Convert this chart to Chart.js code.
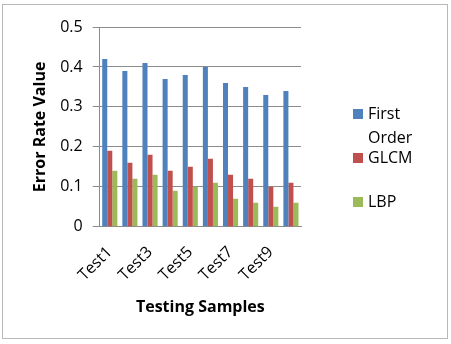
<!DOCTYPE html>
<html>
<head>
<meta charset="utf-8">
<script src="https://cdn.jsdelivr.net/npm/chart.js@4"></script>
<style>
  html, body { margin: 0; padding: 0; background: #fff; }
  #wrap { position: relative; width: 451px; height: 344px; }
  #frame { position: absolute; left: 2px; top: 4px; width: 446px; height: 335px; border: 1px solid #b8b8b8; box-sizing: border-box; pointer-events: none; }
</style>
</head>
<body>
<div id="wrap">
  <canvas id="errChart" width="451" height="344"></canvas>
  <div id="frame"></div>
</div>
<script>
const categories = ["Test1", "Test2", "Test3", "Test4", "Test5", "Test6", "Test7", "Test8", "Test9", "Test10"];
const seriesNames = ["First Order", "GLCM", "LBP"];
const firstOrder = [0.42, 0.39, 0.41, 0.37, 0.38, 0.40, 0.36, 0.35, 0.33, 0.34];
const glcm = [0.19, 0.16, 0.18, 0.14, 0.15, 0.17, 0.13, 0.12, 0.10, 0.11];
const lbp = [0.14, 0.12, 0.13, 0.09, 0.10, 0.11, 0.07, 0.06, 0.05, 0.06];
const yTicks = [0, 0.1, 0.2, 0.3, 0.4, 0.5];

const FONT = "'Open Sans', 'Noto Sans', sans-serif";
const gridGray = "#8c8c8c";

// legend drawn by hand, so "First Order" can wrap like in Excel
const sideLegend = {
  id: "sideLegend",
  afterDraw(chart) {
    const c = chart.ctx;
    const x0 = 353, slot = 44, lineH = 24, maxW = 64;
    let y = 114;
    c.save();
    c.font = "16px " + FONT;
    c.textBaseline = "middle";
    chart.data.datasets.forEach((ds) => {
      c.fillStyle = ds.backgroundColor;
      c.fillRect(x0, y - 5, 10, 10);
      // wrap words
      const words = ds.label.split(" ");
      const lines = [];
      let cur = "";
      words.forEach((w) => {
        const test = cur ? cur + " " + w : w;
        if (cur && c.measureText(test).width > maxW) { lines.push(cur); cur = w; }
        else cur = test;
      });
      lines.push(cur);
      c.fillStyle = "#000";
      lines.forEach((ln, i) => c.fillText(ln, x0 + 15, y + i * lineH));
      y += slot;
    });
    c.restore();
  },
};

const ctx = document.getElementById("errChart").getContext("2d");
const chart = new Chart(ctx, {
  type: "bar",
  data: {
    labels: categories,
    datasets: [
      { label: seriesNames[0], data: firstOrder, backgroundColor: "#4F81BD" },
      { label: seriesNames[1], data: glcm, backgroundColor: "#C0504D" },
      { label: seriesNames[2], data: lbp, backgroundColor: "#9BBB59" },
    ],
  },
  options: {
    responsive: false,
    animation: false,
    layout: { padding: { left: 31, right: 150, top: 27, bottom: 23 } },
    datasets: { bar: { categoryPercentage: 0.75, barPercentage: 1 } },
    scales: {
      x: {
        grid: { display: false },
        border: { color: gridGray },
        ticks: {
          color: "#000",
          font: { family: FONT, size: 16 },
          minRotation: 45,
          maxRotation: 45,
          autoSkip: false,
          padding: 8,
          callback: (v, i) => (i % 2 === 0 ? categories[i] : ""),
        },
        title: {
          display: true,
          text: "Testing Samples",
          color: "#000",
          font: { family: FONT, size: 16, weight: "bold" },
          padding: { top: 5 },
        },
      },
      y: {
        min: 0,
        max: 0.5,
        afterBuildTicks: (axis) => { axis.ticks = yTicks.map((v) => ({ value: v })); },
        grid: { color: gridGray, tickLength: 7 },
        border: { color: gridGray },
        ticks: {
          color: "#000",
          font: { family: FONT, size: 16 },
          padding: 10,
          callback: (v) => String(Math.round(v * 10) / 10),
        },
        title: {
          display: true,
          text: "Error Rate Value",
          color: "#000",
          font: { family: FONT, size: 16, weight: "bold" },
          padding: { top: 0, bottom: 0 },
        },
      },
    },
    plugins: {
      legend: { display: false },
      tooltip: { enabled: false },
    },
  },
  plugins: [sideLegend],
});
</script>
</body>
</html>
